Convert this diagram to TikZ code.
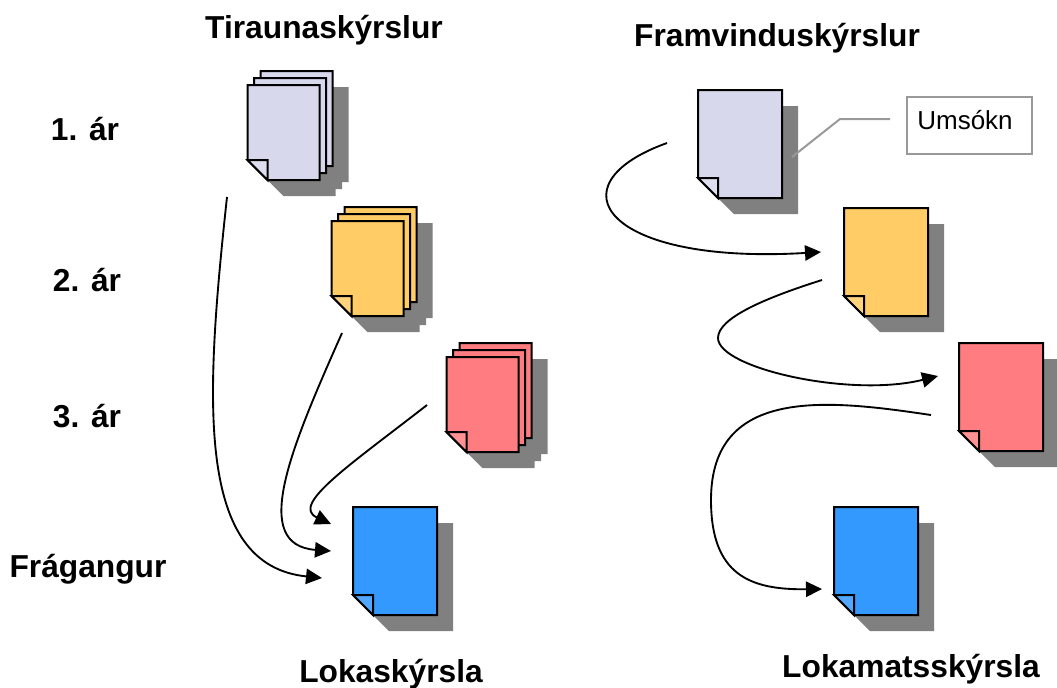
\documentclass[tikz,border=0pt]{standalone}
\usepackage{fontspec}
\setmainfont{Liberation Sans}
\usetikzlibrary{arrows.meta}

\definecolor{pagelilac}{HTML}{D8D8EC}
\definecolor{pageorange}{HTML}{FFCC66}
\definecolor{pagered}{HTML}{FF7C80}
\definecolor{pageblue}{HTML}{3399FF}
\definecolor{pageshadow}{HTML}{808080}

\tikzset{
  title/.style={anchor=base, inner sep=0pt, font=\fontsize{23.8}{28}\selectfont\bfseries},
  flow/.style={->, line width=1.4pt, >={Triangle[length=12pt,width=11.5pt]}},
  page/.style={draw=black, line width=1.5pt, line join=miter},
}

% page outline with the lower left corner folded
\newcommand{\pageoutline}[4]{(#1,#2) -- (#1+#3,#2) -- (#1+#3,#2+#4) -- (#1+20,#2+#4) -- (#1,#2+#4-20) -- cycle}
\newcommand{\pageshade}[4]{\fill[pageshadow] \pageoutline{#1+16}{#2+16}{#3}{#4};}
\newcommand{\pagesheet}[5]{%
  \filldraw[page, fill=#5] \pageoutline{#1}{#2}{#3}{#4};
  \filldraw[page, fill=#5!85!white] (#1,#2+#4-20) -- (#1+20,#2+#4-20) -- (#1+20,#2+#4) -- cycle;
}
% name, left, top, colour
\newcommand{\singledoc}[4]{%
  \pageshade{#2}{#3}{84}{108}
  \pagesheet{#2}{#3}{84}{108}{#4}
  \node[inner sep=0pt, minimum width=63pt, minimum height=81pt] (#1) at (#2+42,#3+54) {};
}
\newcommand{\stackdoc}[4]{%
  \pageshade{#2+13}{#3-14}{72}{95}
  \pageshade{#2+6.5}{#3-7}{72}{95}
  \pageshade{#2}{#3}{72}{95}
  \pagesheet{#2+13}{#3-14}{72}{95}{#4}
  \pagesheet{#2+6.5}{#3-7}{72}{95}{#4}
  \pagesheet{#2}{#3}{72}{95}{#4}
  \node[inner sep=0pt, minimum width=54pt, minimum height=71pt] (#1) at (#2+36,#3+47) {};
}

\begin{document}
\begin{tikzpicture}[x=0.75pt, y=-0.75pt]
  \useasboundingbox (0,0) rectangle (1057,687);

  \node[title] (TitleTests) at (324,38) {Tiraunaskýrslur};
  \node[title] (TitleProgress) at (777,46) {Framvinduskýrslur};
  \node[title] (YearOne) at (85,140) {1. ár};
  \node[title] (YearTwo) at (87,291) {2. ár};
  \node[title] (YearThree) at (87,427) {3. ár};
  \node[title] (Finish) at (88,577) {Frágangur};
  \node[title] (TitleFinal) at (391,682) {Lokaskýrsla};
  \node[title] (TitleEval) at (911,677) {Lokamatsskýrsla};

  \stackdoc{TestOne}{247.5}{85}{pagelilac}
  \stackdoc{TestTwo}{331.5}{221}{pageorange}
  \stackdoc{TestThree}{446.5}{357}{pagered}
  \singledoc{FinalLeft}{353}{507}{pageblue}

  \singledoc{ProgOne}{698}{90}{pagelilac}
  \singledoc{ProgTwo}{844}{208}{pageorange}
  \singledoc{ProgThree}{959}{343}{pagered}
  \singledoc{FinalRight}{834}{507}{pageblue}

  % application callout
  \node[draw=black!40, line width=1.5pt, minimum width=94pt, minimum height=43pt, inner sep=0pt] (Application) at (969.5,125.5) {};
  \node[anchor=base, inner sep=0pt, font=\fontsize{19.5}{24}\selectfont] (ApplicationText) at (965,129) {Umsókn};
  \coordinate (CalloutEnd) at (890,119);
  \coordinate (CalloutBend) at (840,119);
  \coordinate (CalloutDoc) at (792,157);
  \draw[draw=black!40, line width=1.5pt] (CalloutEnd) -- (CalloutBend) -- (CalloutDoc);

  % left column
  \coordinate (AStart) at (227,197);
  \coordinate (AEnd) at (322,578);
  \coordinate (BStart) at (342,333);
  \coordinate (BEnd) at (331,551);
  \coordinate (CStart) at (427,405);
  \coordinate (CEnd) at (331,524);
  \draw[flow] (AStart) .. controls (205,400) and (195,565) .. (AEnd);
  \draw[flow] (BStart) .. controls (290,450) and (250,545) .. (BEnd);
  \draw[flow] (CStart) .. controls (350,465) and (290,505) .. (CEnd);

  % right column
  \coordinate (DStart) at (667,143);
  \coordinate (DEnd) at (821,252);
  \coordinate (EStart) at (822,280);
  \coordinate (EBend) at (718,338);
  \coordinate (EEnd) at (938,376);
  \coordinate (FStart) at (931,415);
  \coordinate (FBend) at (711,500);
  \coordinate (FEnd) at (822,589);
  \draw[flow] (DStart) .. controls (550,185) and (605,265) .. (DEnd);
  \draw[flow] (EStart) .. controls (765,298) and (718,318) .. (EBend) .. controls (718,368) and (850,398) .. (EEnd);
  \draw[flow] (FStart) .. controls (830,400) and (711,385) .. (FBend) .. controls (711,575) and (750,590) .. (FEnd);
\end{tikzpicture}
\end{document}
